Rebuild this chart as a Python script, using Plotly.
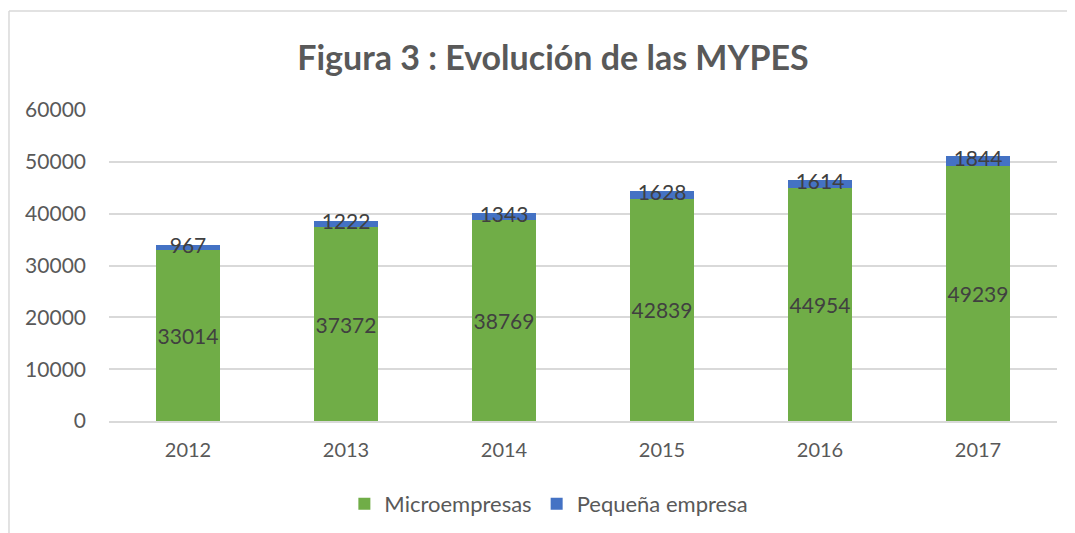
import plotly.graph_objects as go

# Datos de la figura
years = ['2012', '2013', '2014', '2015', '2016', '2017']
micro = [33014, 37372, 38769, 42839, 44954, 49239]
pequena = [967, 1222, 1343, 1628, 1614, 1844]
y_ticks = [0, 10000, 20000, 30000, 40000, 50000, 60000]

GREEN = '#70AD47'
BLUE = '#4472C4'
GREY = '#595959'
FONT = 'Lato, Open Sans, sans-serif'

fig = go.Figure()
fig.add_trace(go.Bar(
    x=years, y=micro, name='Microempresas',
    marker=dict(color=GREEN, line=dict(width=0)),
    text=micro, textposition='inside', insidetextanchor='middle',
    textangle=0, constraintext='none',
    textfont=dict(size=21, color='#404040', family=FONT),
))
fig.add_trace(go.Bar(
    x=years, y=pequena, name='Pequeña empresa',
    marker=dict(color=BLUE, line=dict(width=0)),
))
# etiquetas de la serie pequeña, centradas en su segmento
fig.add_trace(go.Scatter(
    x=years, y=[m + p / 2 for m, p in zip(micro, pequena)],
    text=[str(p) for p in pequena], mode='text',
    textfont=dict(size=21, color='#404040', family=FONT),
    showlegend=False, hoverinfo='skip',
))

fig.update_layout(
    barmode='stack',
    bargap=0.6,
    width=1075, height=533,
    margin=dict(l=101, r=26, t=102, b=120),
    paper_bgcolor='white', plot_bgcolor='white',
    font=dict(family=FONT, color=GREY, size=20),
    title=dict(text='<b>Figura 3 : Evolución de las MYPES</b>',
               x=0.507, xanchor='center', y=0.906, yanchor='middle',
               font=dict(size=34, color=GREY, family=FONT)),
    legend=dict(orientation='h', x=0.464, xanchor='center', y=-0.267, yanchor='middle',
                font=dict(size=22, color=GREY), traceorder='normal'),
    shapes=[
        dict(type='line', xref='paper', yref='paper', x0=-0.1055, x1=1.1, y0=1.318, y1=1.318,
             line=dict(color='#D9D9D9', width=1.5)),
        dict(type='line', xref='paper', yref='paper', x0=-0.1055, x1=-0.1055, y0=1.318, y1=-0.4,
             line=dict(color='#D9D9D9', width=1.5)),
    ],
)
fig.update_xaxes(showline=True, linecolor='#D9D9D9', linewidth=1.5, ticks='',
                 tickfont=dict(size=20, color=GREY), ticklabelstandoff=10)
fig.update_yaxes(range=[0, 60000], tickvals=y_ticks, showgrid=True, gridcolor='#D9D9D9',
                 gridwidth=1.5, zeroline=False, tickformat='d', ticks='',
                 tickfont=dict(size=21, color=GREY), ticklabelstandoff=22)

fig.write_html('out.html')
